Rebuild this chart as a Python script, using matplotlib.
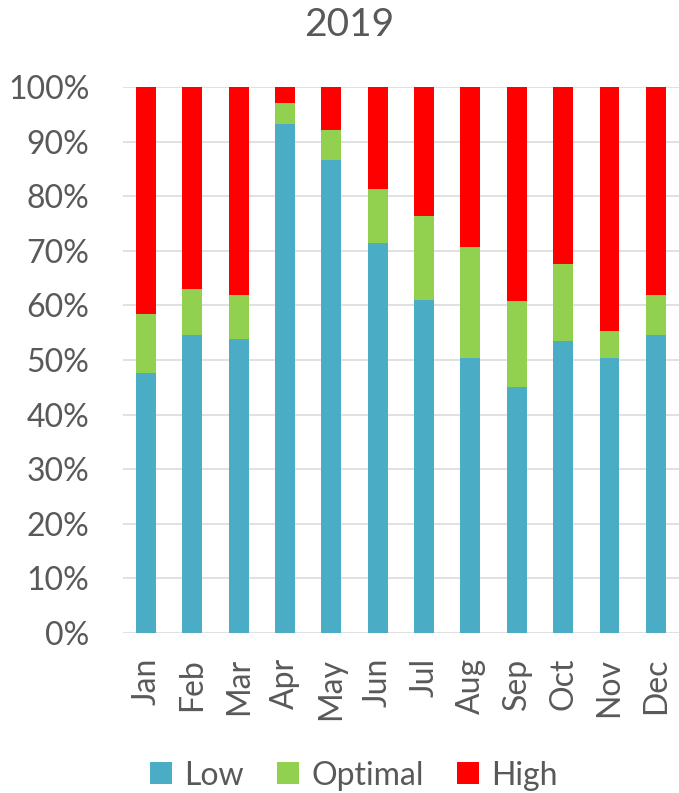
import numpy as np
import matplotlib
matplotlib.use('Agg')
import matplotlib.pyplot as plt

plt.rcParams['font.family'] = ['Lato', 'DejaVu Sans']

# 数据（百分比，从图中读取）
months = ['Jan', 'Feb', 'Mar', 'Apr', 'May', 'Jun', 'Jul', 'Aug', 'Sep', 'Oct', 'Nov', 'Dec']
low = [47.6, 54.6, 53.8, 93.3, 86.6, 71.4, 61.0, 50.4, 45.1, 53.5, 50.4, 54.6]
optimal = [10.8, 8.4, 8.1, 3.8, 5.5, 9.9, 15.4, 20.3, 15.7, 14.1, 4.9, 7.3]
high = [100 - l - o for l, o in zip(low, optimal)]

colors = ['#4BACC6', '#92D050', '#FF0000']
text_color = '#595959'

fig = plt.figure(figsize=(6.79, 7.93), dpi=100)
ax = fig.add_axes([0.181, 0.2018, 0.819, 0.6885])

x = np.arange(len(months))
w = 0.43
ax.bar(x, low, w, color=colors[0], label='Low', zorder=3)
ax.bar(x, optimal, w, bottom=low, color=colors[1], label='Optimal', zorder=3)
bottom2 = [l + o for l, o in zip(low, optimal)]
ax.bar(x, high, w, bottom=bottom2, color=colors[2], label='High', zorder=3)

ax.set_xlim(-0.5, len(months) - 0.5)
ax.set_ylim(0, 100)
ax.set_yticks(range(0, 101, 10))
ax.set_yticklabels([f'{v}%' for v in range(0, 101, 10)])
ax.set_xticks(x)
ax.set_xticklabels(months, rotation=90)

ax.yaxis.grid(True, color='#D9D9D9', linewidth=1.1, zorder=0)
for s in ax.spines.values():
    s.set_visible(False)
ax.tick_params(axis='y', length=0, pad=24, labelsize=23, labelcolor=text_color)
ax.tick_params(axis='x', length=0, pad=18, labelsize=23, labelcolor=text_color)

# 标题
fig.text(0.514, 1 - 36 / 793, '2019', ha='center', va='baseline',
         fontsize=28, color=text_color)

# 图例
leg = fig.legend(loc='center', bbox_to_anchor=(0.521, 0.022), ncol=3,
                 frameon=False, fontsize=23, handlelength=0.69, handleheight=0.69,
                 handletextpad=0.37, columnspacing=1.06)
for t in leg.get_texts():
    t.set_color(text_color)

plt.savefig('out.png', dpi=100)
